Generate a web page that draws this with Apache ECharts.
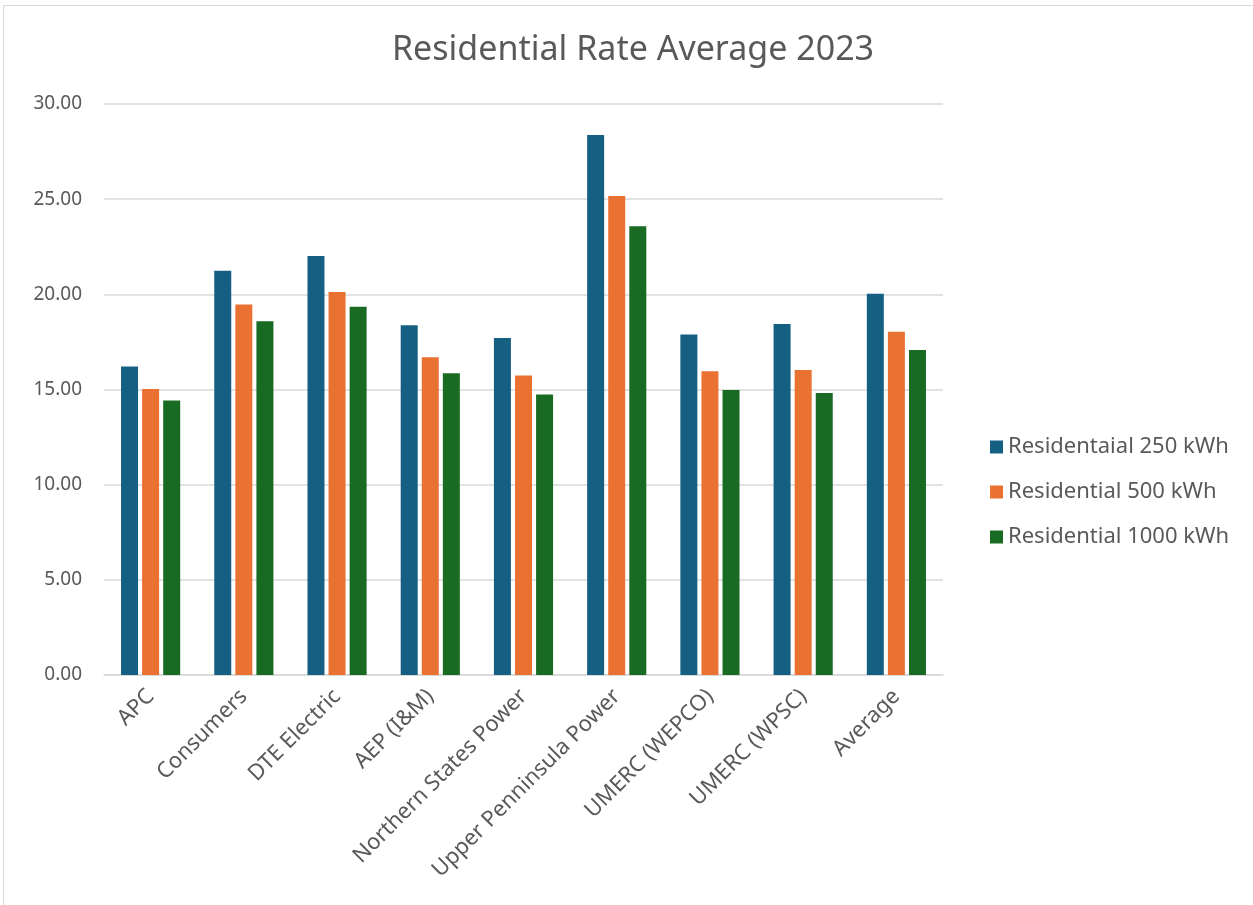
<!DOCTYPE html>
<html><head><meta charset="utf-8">
<script src="https://cdn.jsdelivr.net/npm/echarts@6/dist/echarts.min.js"></script>
<style>
html,body{margin:0;padding:0;background:#fff;}
#frame{position:absolute;left:3px;top:5px;width:1260px;height:910px;border:1px solid #d9d9d9;box-sizing:border-box;}
#chart{position:absolute;left:0;top:0;width:1253px;height:905px;}
</style></head>
<body>
<div id="frame"></div>
<div id="chart"></div>
<script>
const categories = ["APC","Consumers","DTE Electric","AEP (I&M)","Northern States Power","Upper Penninsula Power","UMERC (WEPCO)","UMERC (WPSC)","Average"];
const seriesNames = ["Residentaial 250 kWh","Residential 500 kWh","Residential 1000 kWh"];
const res250 = [16.21,21.24,22.02,18.38,17.70,28.37,17.89,18.44,20.03];
const res500 = [15.02,19.47,20.12,16.70,15.74,25.17,15.96,16.03,18.03];
const res1000 = [14.42,18.59,19.35,15.86,14.74,23.58,14.98,14.82,17.07];
const colors = ["#156082","#E97132","#196B24"];
const font = "Noto Sans, sans-serif";
const chart = echarts.init(document.getElementById('chart'));
const data = [res250,res500,res1000];
chart.setOption({
  animation:false,
  title:{text:"Residential Rate Average 2023",left:628,top:28,textAlign:'center',
    textStyle:{fontFamily:font,fontWeight:'normal',fontSize:34,color:'#595959'}},
  legend:{orient:'vertical',left:985,top:431,itemWidth:13,itemHeight:13,itemGap:23,icon:'rect',
    textStyle:{fontFamily:font,fontSize:22,color:'#595959'},data:seriesNames},
  grid:{left:104,right:310,top:104,bottom:230},
  xAxis:{type:'category',data:categories,
    axisLine:{lineStyle:{color:'#d9d9d9',width:1.5}},axisTick:{show:false},
    axisLabel:{rotate:45,fontFamily:font,fontSize:22,color:'#595959',interval:0,margin:18}},
  yAxis:{type:'value',min:0,max:30,interval:5,
    axisLine:{show:false},axisTick:{show:false},
    splitLine:{lineStyle:{color:'#d9d9d9',width:1.5}},
    axisLabel:{formatter:v=>v.toFixed(2),fontFamily:font,fontSize:19,color:'#595959',margin:22}},
  series:seriesNames.map((n,i)=>({name:n,type:'bar',data:data[i],barWidth:17,barGap:'24%',
    itemStyle:{color:colors[i]}}))
});
</script>
</body></html>
